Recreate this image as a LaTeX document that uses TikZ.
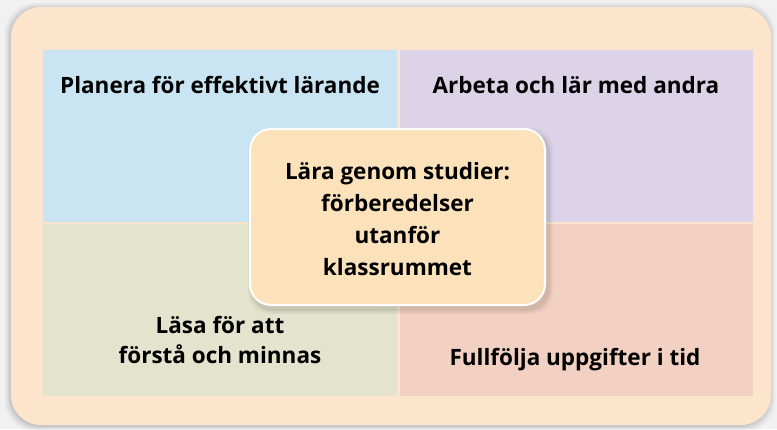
\documentclass[tikz,border=0pt]{standalone}
\usepackage{fontspec}
\setmainfont{Open Sans}
\definecolor{bgout}{HTML}{F1F1F1}
\definecolor{panel}{HTML}{FDE4CC}
\definecolor{qblue}{HTML}{C9E5F3}
\definecolor{qpurple}{HTML}{DCD3E8}
\definecolor{qolive}{HTML}{E4E3CD}
\definecolor{qsalmon}{HTML}{F3D1C2}
\definecolor{centre}{HTML}{FCE2BA}
\begin{document}
\begin{tikzpicture}[x=1pt,y=-1pt,
  quad/.style={draw=none,inner sep=0pt,outer sep=0pt,anchor=north west},
  lbl/.style={font=\fontsize{22.5}{30}\selectfont\bfseries,align=center,inner sep=0pt,anchor=base,text=black},
  clbl/.style={font=\fontsize{22.5}{31.7}\selectfont\bfseries,align=center,inner sep=0pt,text=black},
  centrebox/.style={draw=white,line width=2pt,fill=centre,rounded corners=21pt,inner sep=0pt,minimum width=295pt,minimum height=176pt}]
\useasboundingbox (0,0) rectangle (777,429);
\fill[bgout] (0,0) rectangle (777,429);
% panel shadow
\foreach \i/\o in {6/0.03,4.5/0.04,3/0.05,1.5/0.06}{
  \fill[black,opacity=\o,rounded corners=30pt] (11-\i,7-\i+2) rectangle (771+\i-2,425+\i);
}
\node[quad,fill=panel,rounded corners=30pt,minimum width=760pt,minimum height=418pt] (panel) at (11,7) {};
% quadrants
\node[quad,fill=qblue,minimum width=354pt,minimum height=171.5pt] (q1) at (43,50) {};
\node[quad,fill=qpurple,minimum width=353pt,minimum height=171.5pt] (q2) at (400,50) {};
\node[quad,fill=qolive,minimum width=354pt,minimum height=172pt] (q3) at (43,224) {};
\node[quad,fill=qsalmon,minimum width=353pt,minimum height=172pt] (q4) at (400,224) {};
% labels
\node[lbl] (t1) at (220,93) {Planera för effektivt lärande};
\node[lbl] (t2) at (576,93) {Arbeta och lär med andra};
\node[lbl] (t3) at (220,363) {Läsa för att\\förstå och minnas};
\node[lbl] (t4) at (575,365) {Fullfölja uppgifter i tid};
% centre box shadow
\foreach \i/\o in {5/0.03,3.5/0.04,2/0.06}{
  \fill[black,opacity=\o,rounded corners=22pt] (250-\i+3,129-\i+4) rectangle (545+\i+3,305+\i+4);
}
\node[centrebox] (c) at (397.5,217) {};
\node[clbl,anchor=base] (ct) at (397.5,275) {Lära genom studier:\\förberedelser\\utanför\\klassrummet};
\end{tikzpicture}
\end{document}
